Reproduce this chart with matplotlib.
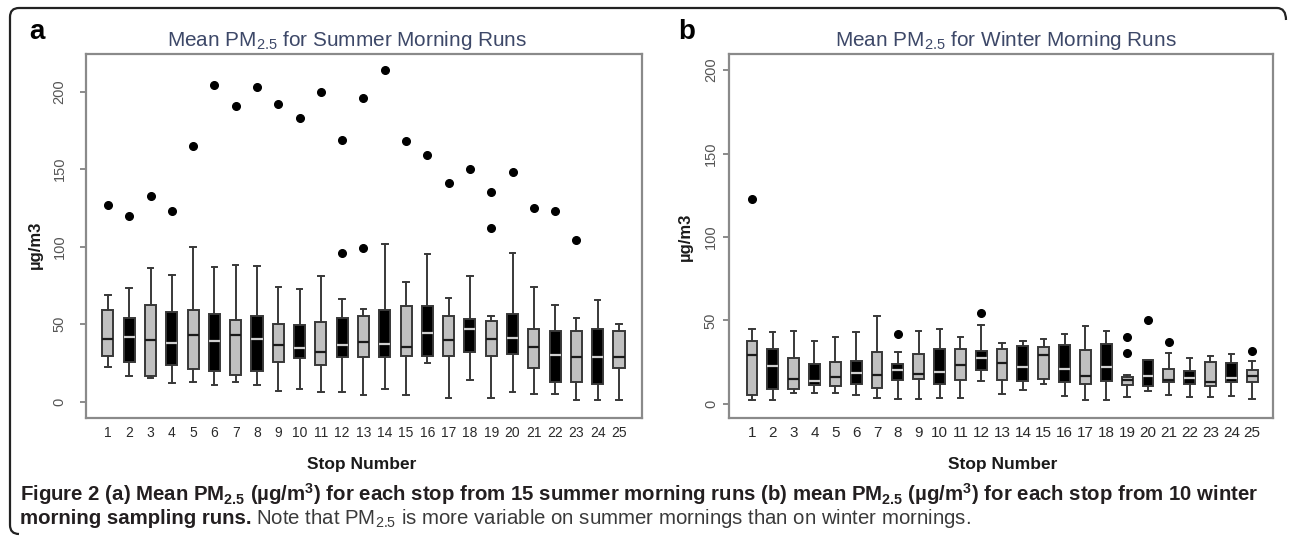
import matplotlib
matplotlib.use("Agg")
import matplotlib.pyplot as plt
from matplotlib import font_manager
from matplotlib.path import Path
from matplotlib.patches import PathPatch

plt.rcParams['font.family'] = ['Liberation Sans', 'DejaVu Sans']
plt.rcParams['mathtext.fontset'] = 'custom'
plt.rcParams['mathtext.rm'] = 'Liberation Sans'

names = {f.name for f in font_manager.fontManager.ttflist}
NARROW = 'Liberation Sans Narrow' if 'Liberation Sans Narrow' in names else 'Liberation Sans'

# ---------------- data ----------------
stops = list(range(1, 26))
stop_labels = [str(s) for s in stops]

summer_whislo = [22.2, 16.7, 15.2, 12.0, 13.0, 10.5, 12.6, 11.0, 7.0, 8.0, 6.3, 6.0, 4.6,
                 8.5, 4.6, 25.0, 2.4, 13.7, 2.6, 6.3, 5.0, 4.8, 1.3, 1.3, 1.3]
summer_q1 = [29.8, 25.7, 16.3, 24.0, 21.0, 20.0, 17.0, 19.6, 25.7, 28.3, 23.5, 28.7, 28.7,
             28.7, 29.8, 29.3, 29.8, 32.0, 29.6, 30.9, 21.5, 13.0, 12.4, 11.3, 21.7]
summer_med = [40.7, 42.0, 39.8, 38.0, 43.3, 39.0, 43.3, 40.2, 36.3, 34.8, 32.0, 36.7, 38.7,
              37.4, 35.4, 44.6, 39.8, 47.2, 40.2, 41.0, 35.4, 30.2, 29.1, 29.1, 29.1]
summer_q3 = [59.3, 54.3, 62.4, 58.0, 59.0, 56.5, 53.0, 55.0, 50.0, 49.8, 51.7, 54.0, 55.4,
             59.3, 61.5, 62.0, 55.4, 53.3, 52.2, 56.7, 47.2, 45.6, 45.9, 47.2, 45.9]
summer_whishi = [69.0, 73.5, 86.0, 82.0, 100.0, 87.0, 88.5, 87.5, 74.0, 73.0, 81.0, 66.0, 59.8,
                 102.0, 77.4, 95.4, 66.7, 81.3, 55.0, 95.7, 73.7, 62.4, 54.0, 65.7, 50.4]
summer_fliers = [[127], [120], [133], [123], [165], [204], [191], [203], [192], [183], [200],
                 [169, 96], [196, 99], [214], [168], [159], [141], [150], [135, 112], [148],
                 [125], [123], [104], [], []]

winter_whislo = [2.4, 2.4, 6.7, 6.5, 6.3, 5.4, 3.6, 3.0, 2.8, 3.6, 3.6, 13.9, 6.0,
                 8.1, 12.1, 4.8, 2.6, 2.4, 4.0, 7.7, 5.6, 4.0, 4.0, 4.6, 3.2]
winter_q1 = [5.2, 8.9, 8.9, 11.1, 10.7, 11.9, 9.7, 14.1, 14.9, 12.1, 14.1, 20.4, 14.5,
             13.7, 15.1, 13.1, 11.7, 13.5, 11.1, 10.5, 12.9, 12.1, 10.5, 13.3, 13.3]
winter_med = [29.6, 22.8, 15.1, 13.5, 16.3, 18.5, 17.3, 20.2, 18.1, 19.4, 23.2, 27.6, 24.8,
              22.2, 29.2, 20.8, 16.5, 22.2, 14.1, 16.9, 14.5, 15.7, 12.9, 15.3, 16.7]
winter_q3 = [37.9, 32.7, 27.8, 24.2, 25.2, 26.0, 31.3, 24.2, 30.2, 33.0, 32.7, 31.7, 32.7,
             34.7, 33.9, 35.3, 32.3, 35.9, 16.3, 26.6, 21.0, 20.0, 25.4, 24.8, 20.4]
winter_whishi = [44.8, 43.0, 44.0, 37.7, 40.0, 43.0, 52.8, 31.3, 43.5, 45.0, 40.3, 47.2, 36.7,
                 37.9, 38.7, 41.9, 46.4, 43.8, 17.5, 26.6, 30.6, 27.8, 28.6, 30.2, 25.6]
winter_fliers = [[122.5], [], [], [], [], [], [], [42], [], [], [], [54.4], [],
                 [], [], [], [], [], [40, 30.6], [50.4], [36.9], [], [], [], [31.7]]

box_colors = ['#c0c0c0' if s % 2 == 1 else '#000000' for s in stops]
median_colors = ['#1a1a1a' if s % 2 == 1 else '#cfcfcf' for s in stops]

W, H = 1290, 538
fig = plt.figure(figsize=(W / 100, H / 100), dpi=100)


def fx(px):
    return px / W


def fy(py):
    return 1 - py / H


def make_axes(x0, x1, y0, y1):
    return fig.add_axes([fx(x0), fy(y1), fx(x1) - fx(x0), fy(y0) - fy(y1)])


def draw_panel(ax, whislo, q1, med, q3, whishi, fliers, xlim, ylim, ticklabel_size, ypad):
    stats = []
    for i in range(len(stops)):
        stats.append(dict(whislo=whislo[i], q1=q1[i], med=med[i], q3=q3[i],
                          whishi=whishi[i], fliers=fliers[i], label=stop_labels[i]))
    edge = '#383838'
    bp = ax.bxp(stats, positions=stops, widths=0.52, capwidths=0.26, patch_artist=True,
                showfliers=True,
                boxprops=dict(edgecolor=edge, linewidth=1.4),
                whiskerprops=dict(color=edge, linewidth=1.4),
                capprops=dict(color=edge, linewidth=1.4),
                medianprops=dict(linewidth=1.6),
                flierprops=dict(marker='o', markerfacecolor='black', markeredgecolor='black',
                                markersize=5.5, linestyle='none'))
    for patch, c in zip(bp['boxes'], box_colors):
        patch.set_facecolor(c)
    for m, c in zip(bp['medians'], median_colors):
        m.set_color(c)
    ax.set_xlim(*xlim)
    ax.set_ylim(*ylim)
    ax.set_xticks(stops)
    ax.set_xticklabels(stop_labels, fontsize=ticklabel_size, color='#2a2a2a', family=NARROW)
    ax.tick_params(axis='x', length=0, pad=6)
    ax.set_yticks([0, 50, 100, 150, 200])
    ax.set_yticklabels(['0', '50', '100', '150', '200'], rotation=90, va='center',
                       fontsize=10.5, color='#555555')
    ax.tick_params(axis='y', length=4, width=1.2, color='#777777', pad=ypad)
    for sp in ax.spines.values():
        sp.set_color('#8a8a8a')
        sp.set_linewidth(1.6)


axL = make_axes(86, 642, 54, 418)
draw_panel(axL, summer_whislo, summer_q1, summer_med, summer_q3, summer_whishi, summer_fliers,
           (-0.03, 26.08), (-10.5, 224.3), 10, 10)
axR = make_axes(729, 1273, 54, 418)
draw_panel(axR, winter_whislo, winter_q1, winter_med, winter_q3, winter_whishi, winter_fliers,
           (-0.10, 26.0), (-8.4, 209.6), 11, 4)

renderer = fig.canvas.get_renderer()


def fit(t, target_w):
    w = t.get_window_extent(renderer).width
    t.set_fontsize(t.get_fontsize() * target_w / w)
    return t


title_color = '#3d4868'
tL = fig.text(fx(167), fy(41), r'Mean PM$_{\mathregular{2.5}}$ for Summer Morning Runs',
              ha='left', va='center', fontsize=15, color=title_color)
fit(tL, 361)
tR = fig.text(fx(1006), fy(41), r'Mean PM$_{\mathregular{2.5}}$ for Winter Morning Runs',
              ha='center', va='center', fontsize=tL.get_fontsize(), color=title_color)

fig.text(fx(37), fy(32), 'a', ha='center', va='center', fontsize=20, fontweight='bold')
fig.text(fx(687), fy(32), 'b', ha='center', va='center', fontsize=20, fontweight='bold')

fig.text(fx(35), fy(245), 'µg/m3', rotation=90, ha='center', va='center',
         fontsize=12, fontweight='bold', color='#1a1a1a')
fig.text(fx(685), fy(237), 'µg/m3', rotation=90, ha='center', va='center',
         fontsize=12, fontweight='bold', color='#1a1a1a')

fig.text(fx(362), fy(464), 'Stop Number', ha='center', va='center', fontsize=12.5,
         fontweight='bold', family=NARROW, color='#1a1a1a')
fig.text(fx(1003), fy(464), 'Stop Number', ha='center', va='center', fontsize=12.5,
         fontweight='bold', family=NARROW, color='#1a1a1a')

cap1 = (r'Figure 2 (a) Mean PM$_{\mathregular{2.5}}$ (µg/m$^{\mathregular{3}}$) for each stop '
        r'from 15 summer morning runs (b) mean PM$_{\mathregular{2.5}}$ (µg/m$^{\mathregular{3}}$) '
        r'for each stop from 10 winter')
c1 = fig.text(fx(20), fy(494), cap1, ha='left', va='center', fontsize=12,
              fontweight='bold', family=NARROW, color='#231f20')
fit(c1, 1235)
cs = c1.get_fontsize()
c2a = fig.text(fx(20), fy(518), 'morning sampling runs.', ha='left', va='center', fontsize=cs,
               fontweight='bold', family=NARROW, color='#231f20')
wa = c2a.get_window_extent(renderer).width
fig.text(fx(20 + wa + 4), fy(518),
         r'Note that PM$_{\mathregular{2.5}}$ is more variable on summer mornings than on winter mornings.',
         ha='left', va='center', fontsize=cs, family=NARROW, color='#3a3a3a')

# figure frame (top and left border with rounded corners)
r = 9
verts = [(1286, 20), (1286, 8), (1286 - r, 8), (10 + r, 8), (10, 8), (10, 8 + r),
         (10, 534 - r), (10, 534), (10 + r, 534)]
codes = [Path.MOVETO, Path.CURVE3, Path.CURVE3, Path.LINETO, Path.CURVE3, Path.CURVE3,
         Path.LINETO, Path.CURVE3, Path.CURVE3]
verts_f = [(fx(x), fy(y)) for x, y in verts]
fig.patches.append(PathPatch(Path(verts_f, codes), transform=fig.transFigure, fill=False,
                             edgecolor='#222222', linewidth=1.6))

fig.savefig('out.png', dpi=100)
